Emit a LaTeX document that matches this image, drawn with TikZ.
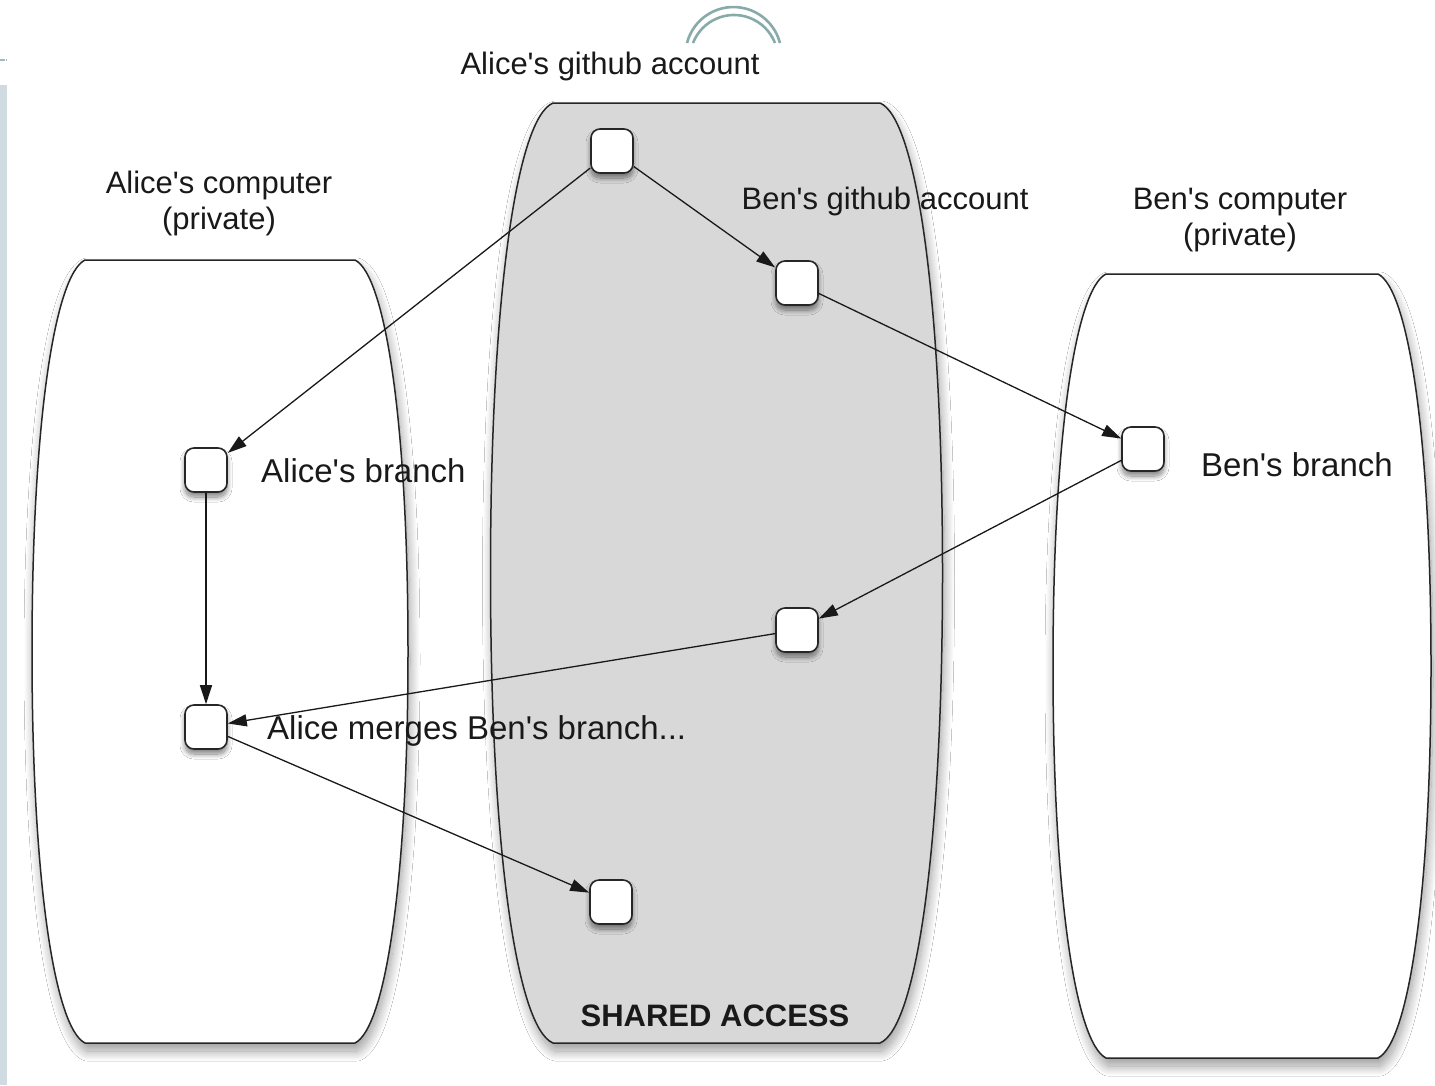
\documentclass[tikz,border=0pt]{standalone}
\usepackage{fontspec}
\setmainfont{Liberation Sans}[Ligatures=TeXOff]
\usetikzlibrary{arrows.meta,shadows.blur}
\definecolor{midgrey}{HTML}{D8D8D8}
\definecolor{barblue}{HTML}{CFDBE0}
\definecolor{arcteal}{HTML}{88AAAA}
\begin{document}
\begin{tikzpicture}[x=1pt,y=-1pt,
  container/.style={draw=black!85,line width=1.5pt,
    blur shadow={shadow xshift=2pt,shadow yshift=-8pt,shadow blur radius=10pt,shadow blur steps=20,shadow opacity=40}},
  commit/.style={draw=black!85,fill=white,line width=1.6pt,rounded corners=9pt,
    minimum width=42pt,minimum height=44pt,inner sep=0pt,
    blur shadow={shadow xshift=0pt,shadow yshift=-5pt,shadow blur radius=5pt,shadow blur steps=12,shadow opacity=50}},
  link/.style={line width=1.3pt,draw=black!90,-{Triangle[length=19pt,width=12pt]}},
  lbl/.style={font=\fontsize{31}{36}\selectfont,text=black!90,inner sep=0pt},
  blbl/.style={font=\fontsize{33}{38}\selectfont,text=black!90,inner sep=0pt},
  slbl/.style={font=\bfseries\fontsize{31}{36}\selectfont,text=black!90,inner sep=0pt}
]
\useasboundingbox (0,0) rectangle (1435,1085);
\fill[white] (0,0) rectangle (1435,1085);

% page decorations
\fill[barblue] (0,85) rectangle (7,1085);
\fill[arcteal!80] (0,59) rectangle (5,61);
\fill[arcteal!80] (6,59) rectangle (7,61);
\draw[arcteal,line width=2.6pt] (687,43) arc[start angle=-165.5,end angle=-14.5,radius=48];
\draw[arcteal,line width=2.6pt] (693,43) arc[start angle=-158.7,end angle=-21.3,radius=44];

% containers
\path[container,fill=white] (85,260) -- (355,260)
  .. controls (385,275) and (408,420) .. (408,651.5)
  .. controls (408,883) and (385,1028) .. (355,1043) -- (85,1043)
  .. controls (55,1028) and (32,883) .. (32,651.5)
  .. controls (32,420) and (55,275) .. (85,260) -- cycle;
\path[container,fill=midgrey] (553,103) -- (880,103)
  .. controls (916,118) and (942.5,295) .. (942.5,573)
  .. controls (942.5,851) and (916,1028) .. (880,1043) -- (553,1043)
  .. controls (517,1028) and (490.5,851) .. (490.5,573)
  .. controls (490.5,295) and (517,118) .. (553,103) -- cycle;
\path[container,fill=white] (1106,274) -- (1378,274)
  .. controls (1408,289) and (1431,434) .. (1431,666)
  .. controls (1431,898) and (1408,1043) .. (1378,1058) -- (1106,1058)
  .. controls (1076,1043) and (1053,898) .. (1053,666)
  .. controls (1053,434) and (1076,289) .. (1106,274) -- cycle;

% commits
\node[commit] (gA)   at (612,151) {};
\node[commit] (gB)   at (797,283) {};
\node[commit] (aB)   at (206,470) {};
\node[commit] (bB)   at (1143,449) {};
\node[commit] (gM)   at (797,630) {};
\node[commit] (aM)   at (206,727) {};
\node[commit] (gBot) at (611,902) {};

% connectors
\draw[link] (gA) -- (aB);
\draw[link] (gA) -- (gB);
\draw[link] (gB) -- (bB);
\draw[link] (bB) -- (gM);
\draw[link] (gM) -- (aM);
\draw[link] (aB) -- (aM);
\draw[link] (aM) -- (gBot);

% labels
\node[lbl,anchor=base] (tAG) at (610,74) {Alice's github account};
\node[lbl,anchor=base,align=center] (tAC) at (219,229) {Alice's computer\\(private)};
\node[lbl,anchor=base] (tBG) at (885,209) {Ben's github account};
\node[lbl,anchor=base,align=center] (tBC) at (1240,245) {Ben's computer\\(private)};
\node[blbl,anchor=base west] (tAB) at (261,482) {Alice's branch};
\node[blbl,anchor=base west] (tBB) at (1201,476) {Ben's branch};
\node[blbl,anchor=base west] (tAM) at (267,739) {Alice merges Ben's branch...};
\node[slbl,anchor=base] (tSA) at (715,1026) {SHARED ACCESS};
\end{tikzpicture}
\end{document}
